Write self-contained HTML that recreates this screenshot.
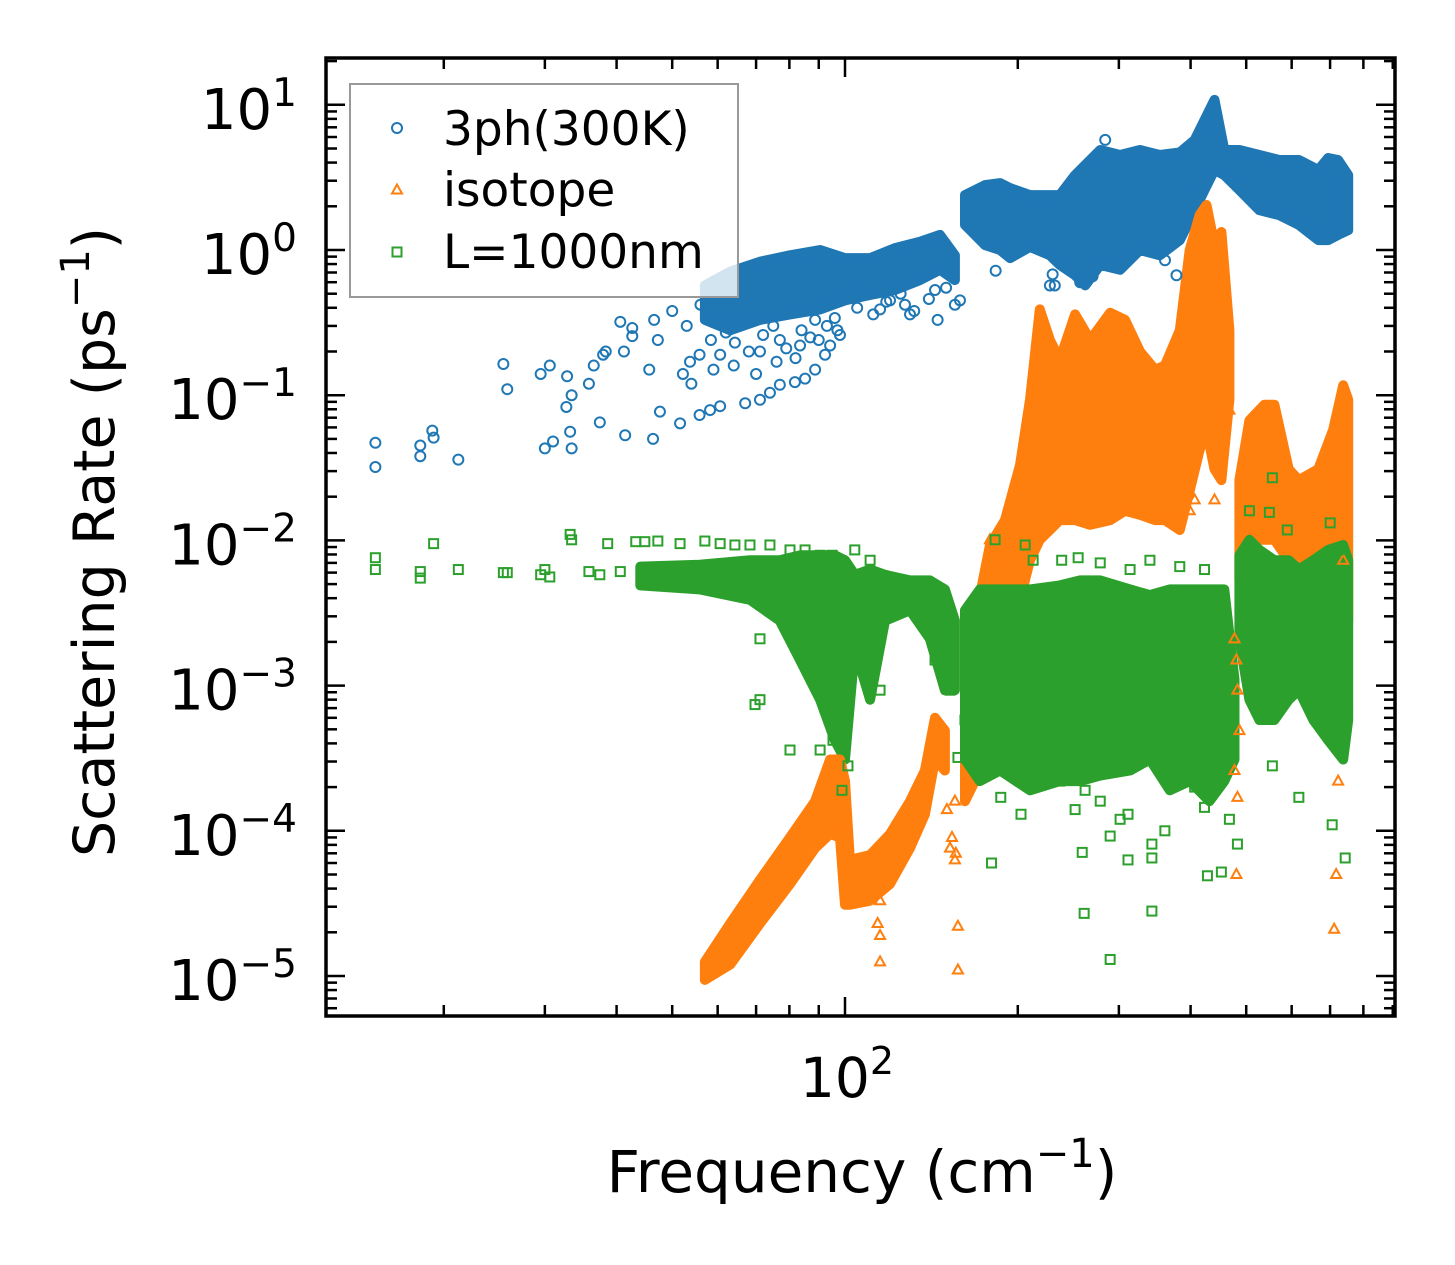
<!DOCTYPE html>
<html><head><meta charset="utf-8">
<style>
html,body{margin:0;padding:0;background:#fff;}
svg{display:block;font-family:"DejaVu Sans","Liberation Sans",sans-serif;}
</style></head>
<body>
<svg id="chart" width="1455" height="1265" viewBox="0 0 1455 1265" xmlns="http://www.w3.org/2000/svg">
<rect x="0" y="0" width="1455" height="1265" fill="#fff"/>
<g id="bands"></g>
<g id="marks"></g>
<g id="axes"></g>
</svg>
<script>
// ---------- data ----------
// 3ph(300K) dense regions: frequency (cm^-1), upper and lower rate (ps^-1)
const ph3BandA_f  = [57,63.1,71.1,80.2,90.5,100,110.6,122.2,135.1,146.4,155.4];
const ph3BandA_hi = [0.57,0.71,0.83,0.92,1.0,0.88,0.88,1.03,1.14,1.27,0.92];
const ph3BandA_lo = [0.33,0.28,0.33,0.36,0.39,0.45,0.49,0.53,0.62,0.73,0.62];
const ph3BandB_f  = [161.8,175.4,186.3,193.9,210,227.5,236.7,251.7,262.1,278.4,301.5,326.5,353.6,383,406.6,423,440.3,458,486.6,527.2,571,617.6,667.8,694.8,723,752.7];
const ph3BandB_hi = [2.39,2.8,2.89,2.67,2.39,2.39,2.39,3.28,3.85,4.88,4.51,4.88,4.51,4.7,5.73,7.85,10.8,4.88,4.88,4.51,4.17,4.17,3.56,4.3,4.17,3.28];
const ph3BandB_lo = [1.49,1.08,1.0,0.88,1.05,0.92,0.79,0.67,0.57,0.79,0.73,1.0,0.92,1.17,1.88,2.59,3.56,3.28,2.59,1.88,1.74,1.49,1.17,1.17,1.27,1.37];
// 3ph individual points
const ph3Pts_f = [15.2,15.2,18.2,18.2,19.1,19.2,21.2,25.4,25.8,29.5,30,30.6,31,32.8,33.4,33.2,32.7,33.4,35.8,36.5,37.4,37.9,38.3,40.6,41.2,41.4,42.6,42.6,45.6,46.3,46.5,47.2,47.6,51.6,55.8,58.2,60.6,67,71.1,74,77,81.8,85.2,88.7,92.3,94.2,98,52.2,53.7,55.8,58.4,60.6,64.3,66.2,71.1,77,83.5,88.7,102,115.1,127.2,145,143.5,155.4,158.6,119.8,129.8,284,378,361,227.5,256.9,650,232,257,270,183,230,
 50,53,56,62,65,68,72,75,79,84,87,93,96,105,112,118,125,132,140,150,54,59,64,70,76,82,90,97];
const ph3Pts_r = [0.032,0.047,0.045,0.038,0.057,0.051,0.036,0.164,0.11,0.14,0.043,0.16,0.048,0.135,0.1,0.056,0.083,0.043,0.12,0.16,0.065,0.19,0.2,0.32,0.2,0.053,0.255,0.29,0.15,0.05,0.33,0.24,0.077,0.064,0.073,0.079,0.084,0.088,0.093,0.104,0.118,0.123,0.13,0.15,0.19,0.22,0.26,0.14,0.17,0.19,0.24,0.19,0.23,0.32,0.2,0.24,0.22,0.33,0.53,0.39,0.42,0.33,0.53,0.42,0.45,0.45,0.36,5.73,0.67,0.85,0.57,0.6,1.37,0.57,0.62,0.66,0.72,0.68,
 0.38,0.3,0.42,0.27,0.35,0.2,0.26,0.3,0.21,0.28,0.25,0.3,0.34,0.4,0.36,0.44,0.5,0.38,0.46,0.55,0.12,0.15,0.16,0.14,0.17,0.18,0.24,0.28];

// isotope dense regions
const isoBandA_f  = [57,63.1,71.1,80.2,88.7,94.2,98,100,102,110.6,119.8,129.8,137.8,143.5,149.3];
const isoBandA_hi = [1.25e-5,2.3e-5,4.6e-5,9e-5,1.6e-4,3.1e-4,3.1e-4,2.2e-4,6.3e-5,6.8e-5,9.5e-5,1.6e-4,2.6e-4,6e-4,4.9e-4];
const isoBandA_lo = [9.4e-6,1.2e-5,2.3e-5,4.3e-5,7.6e-5,9.5e-5,9e-5,3.1e-5,3.1e-5,3.3e-5,4.3e-5,7.6e-5,1.3e-4,3.1e-4,2.6e-4];
const isoBandB_f  = [161.8,168.4,178.9,190,201.8,210,218.5,227.5,236.7,251.7,267.4,289.7,307.5,326.5,346.6,360.8,383,398.6,414.8,426.4,440.3,452.6,467.4];
const isoBandB_hi = [8e-4,2.8e-3,9.3e-3,0.0138,0.033,0.093,0.39,0.24,0.175,0.36,0.24,0.37,0.33,0.2,0.15,0.16,0.28,1.0,1.74,2.04,1.08,1.33,0.28];
const isoBandB_lo = [1.6e-4,2.2e-4,8e-4,2.1e-3,3.9e-3,7.3e-3,0.0101,0.0118,0.0138,0.0138,0.0128,0.0138,0.016,0.015,0.0138,0.0138,0.0118,0.022,0.042,0.058,0.031,0.026,0.093];
const isoBandC_f  = [486.6,506.5,537.8,559.8,593,617.6,667.8,708.7,737.8,752.7];
const isoBandC_hi = [0.026,0.067,0.086,0.086,0.031,0.026,0.031,0.058,0.117,0.093];
const isoBandC_lo = [0.0053,0.0101,0.0101,0.0101,0.0073,0.0073,0.0073,0.0073,0.0039,0.0028];
const isoPts_f = [115.1,114,115.1,115.1,157.3,157.3,152.4,155.4,153.6,150.5,155.4,156,467.4,458,445.4,440.3,477,480.7,482.7,486.6,477,482.7,480.7,723,717.3,711.5,737.8,406.6,398.6,605,278.4,313.8,186.3,178.9];
const isoPts_r = [3.3e-5,2.3e-5,1.9e-5,1.25e-5,2.2e-5,1.1e-5,7.6e-5,6.3e-5,9e-5,1.4e-4,1.6e-4,7e-5,0.079,0.058,0.067,0.019,0.0021,0.0015,9.3e-4,4.9e-4,2.6e-4,1.7e-4,5e-5,2.2e-4,5e-5,2.1e-5,0.0073,0.019,0.016,0.028,0.017,0.019,0.0073,0.0101];

// L=1000nm dense regions
const bdyBandA_f  = [44,55.8,68.3,77,83.5,90.5,96,100,104,110.6,117.4,129.8,140.6,149.3,155.4];
const bdyBandA_hi = [0.0066,0.0068,0.0073,0.0073,0.0079,0.0079,0.0079,0.0073,0.0058,0.0063,0.0058,0.0053,0.0053,0.0046,0.0028];
const bdyBandA_lo = [0.0049,0.0046,0.0039,0.0028,0.0015,8e-4,4.2e-4,3.1e-4,0.0018,8e-4,0.0028,0.0033,0.0021,9.3e-4,9.3e-4];
const bdyBandB_f  = [161.8,171.8,186.3,210,236.7,256.9,278.4,313.8,339.8,368,398.6,431.6,458,477];
const bdyBandB_hi = [0.0033,0.0046,0.0046,0.0046,0.0049,0.0053,0.0053,0.0046,0.0042,0.0046,0.0046,0.0046,0.0046,0.0011];
const bdyBandB_lo = [3.1e-4,2.2e-4,2.6e-4,1.9e-4,2.2e-4,2.2e-4,2.4e-4,2.6e-4,3.1e-4,1.9e-4,2.2e-4,1.6e-4,2.2e-4,3.1e-4];
const bdyBandC_f  = [486.6,506.5,527.2,559.8,593,617.6,654.6,694.8,737.8,752.7];
const bdyBandC_hi = [0.0079,0.0101,0.0086,0.0073,0.0073,0.0063,0.0073,0.0086,0.0093,0.0073];
const bdyBandC_lo = [0.0021,8e-4,5.8e-4,5.8e-4,8e-4,9.3e-4,5.8e-4,4.2e-4,3.1e-4,5.8e-4];
const bdyPts_f = [15.2,15.2,18.2,18.2,19.2,21.2,25.4,25.8,29.5,30,30.6,33.2,33.4,35.8,37.4,38.6,40.6,43.2,44.8,45.8,47.2,51.6,55.8,57,60.6,64.3,68.3,74,80.2,85.2,90.5,95,104,110.6,
 69.7,71.1,80.2,90.5,98.8,101.2,95.3,91.2,71.1,115.1,111.4,137.8,143.5,152.4,146.4,161.8,157.3,
 186.8,202.6,180,259,261,289.7,311.2,342.5,342.5,342.5,428,452.6,482.7,617.6,555.3,705.9,743.8,289.7,406.6,423,467.4,262,278.4,311.2,236.7,218.5,251.7,301.5,360.8,383,
 182.6,206,212.7,238.5,254.8,278.4,313.8,339.8,383,423,506.5,548.7,589.6,700.3,723,555.3];
const bdyPts_r = [0.0076,0.0063,0.0061,0.0055,0.0095,0.0063,0.006,0.006,0.0058,0.0063,0.0056,0.011,0.0101,0.0061,0.0058,0.0095,0.0061,0.0098,0.0098,0.006,0.0099,0.0095,0.0056,0.0099,0.0095,0.0093,0.0093,0.0093,0.0086,0.0086,0.0079,0.0079,0.0086,0.0073,
 7.4e-4,8e-4,3.6e-4,3.6e-4,1.9e-4,2.8e-4,4.2e-4,9.3e-4,0.0021,9.3e-4,0.0013,0.0036,0.0015,9.3e-4,0.0039,5.8e-4,3.2e-4,
 1.7e-4,1.3e-4,6e-5,7.1e-5,2.7e-5,9.2e-5,6.3e-5,2.8e-5,6.5e-5,8.1e-5,4.9e-5,5.2e-5,8.1e-5,1.7e-4,2.8e-4,1.1e-4,6.5e-5,1.3e-5,2e-4,1.45e-4,1.2e-4,1.9e-4,1.6e-4,1.3e-4,2.2e-4,2.6e-4,1.4e-4,1.2e-4,1e-4,2.4e-4,
 0.0101,0.0093,0.0073,0.0073,0.0076,0.007,0.0063,0.0073,0.0066,0.0063,0.016,0.0156,0.0118,0.0132,0.0086,0.027];

const yTickExps = [-5,-4,-3,-2,-1,0,1];
const xTickExps = [2];
const minorMults = [2,3,4,5,6,7,8,9];

// ---------- axes ----------
const L=326, R=1395, T=58, B=1016;
const X0=845, XDEC=574;   // pixel of 10^2, px per decade
const Y0=250, YDEC=145.2; // pixel of 10^0
const xs = f => X0 + (Math.log10(f)-2)*XDEC;
const ys = r => Y0 - Math.log10(r)*YDEC;
const NS="http://www.w3.org/2000/svg";
function mk(tag, attrs, parent){const e=document.createElementNS(NS,tag);for(const k in attrs)e.setAttribute(k,attrs[k]);parent.appendChild(e);return e;}

const C_BLUE="#1f77b4", C_ORANGE="#ff7f0e", C_GREEN="#2ca02c";
const bands=document.getElementById('bands'), marks=document.getElementById('marks'), axes=document.getElementById('axes');

function band(f,hi,lo,color,name){
  let pts=[];
  for(let i=0;i<f.length;i++) pts.push(xs(f[i]).toFixed(1)+','+ys(hi[i]).toFixed(1));
  for(let i=f.length-1;i>=0;i--) pts.push(xs(f[i]).toFixed(1)+','+ys(lo[i]).toFixed(1));
  const p=mk('polygon',{points:pts.join(' '),fill:color,stroke:color,'stroke-width':10,'stroke-linejoin':'round'},bands);
  
  
}
band(bdyBandA_f,bdyBandA_hi,bdyBandA_lo,C_GREEN,'boundary-band-low');
band(isoBandA_f,isoBandA_hi,isoBandA_lo,C_ORANGE,'isotope-band-low');
band(ph3BandA_f,ph3BandA_hi,ph3BandA_lo,C_BLUE,'ph3-band-low');
band(ph3BandB_f,ph3BandB_hi,ph3BandB_lo,C_BLUE,'ph3-band-high');
band(isoBandB_f,isoBandB_hi,isoBandB_lo,C_ORANGE,'isotope-band-mid');
band(isoBandC_f,isoBandC_hi,isoBandC_lo,C_ORANGE,'isotope-band-high');
band(bdyBandB_f,bdyBandB_hi,bdyBandB_lo,C_GREEN,'boundary-band-mid');
band(bdyBandC_f,bdyBandC_hi,bdyBandC_lo,C_GREEN,'boundary-band-high');

function circle(cx,cy,parent){return mk('circle',{cx:cx,cy:cy,r:5,fill:'none',stroke:C_BLUE,'stroke-width':2},parent);}
function tri(cx,cy,parent){return mk('polygon',{points:`${cx},${cy-5.5} ${cx-5},${cy+3.5} ${cx+5},${cy+3.5}`,fill:'none',stroke:C_ORANGE,'stroke-width':2},parent);}
function sq(cx,cy,parent){return mk('rect',{x:cx-4.5,y:cy-4.5,width:9,height:9,fill:'none',stroke:C_GREEN,'stroke-width':2},parent);}

for(let i=0;i<ph3Pts_f.length;i++){
  const e=circle(xs(ph3Pts_f[i]),ys(ph3Pts_r[i]),marks);
  
  
}
for(let i=0;i<isoPts_f.length;i++){
  const e=tri(xs(isoPts_f[i]),ys(isoPts_r[i]),marks);
  
  
}
for(let i=0;i<bdyPts_f.length;i++){
  const e=sq(xs(bdyPts_f[i]),ys(bdyPts_r[i]),marks);
  
  
}

// ticks
function tick(x1,y1,x2,y2,name){
  const e=mk('line',{x1:x1,y1:y1,x2:x2,y2:y2,stroke:'#000','stroke-width':2.5},axes);
  
  
}
for(let d=-6; d<=1; d++){
  for(const m of minorMults){
    const y=ys(m*Math.pow(10,d));
    if(y>T+1 && y<B-1){tick(L,y,L+11,y,'y-minor-tick');tick(R,y,R-11,y,'y-minor-tick');}
  }
}
for(const e of yTickExps){
  const y=ys(Math.pow(10,e));
  tick(L,y,L+19,y,'y-major-tick');tick(R,y,R-19,y,'y-major-tick');
  const t=mk('text',{x:297,y:y+24,'text-anchor':'end','font-size':56,fill:'#000'},axes);
  
  
  const s1=mk('tspan',{},t); s1.textContent='10';
  const s2=mk('tspan',{'font-size':39,dy:-23}, t); s2.textContent=(e<0?'\u2212':'')+Math.abs(e);
}
for(let d=1; d<=2; d++){
  for(const m of minorMults){
    const x=xs(m*Math.pow(10,d));
    if(x>L+1 && x<R-1){tick(x,B,x,B-11,'x-minor-tick');tick(x,T,x,T+11,'x-minor-tick');}
  }
}
for(const e of xTickExps){
  const x=xs(Math.pow(10,e));
  tick(x,B,x,B-19,'x-major-tick');tick(x,T,x,T+19,'x-major-tick');
  const t=mk('text',{x:x+2,y:1097,'text-anchor':'middle','font-size':55,fill:'#000'},axes);
  
  
  const s1=mk('tspan',{},t); s1.textContent='10';
  const s2=mk('tspan',{'font-size':38,dy:-23},t); s2.textContent=String(e);
}
const frame=mk('rect',{x:L,y:T,width:R-L,height:B-T,fill:'none',stroke:'#000','stroke-width':3.5},axes);


</script>
<svg style="position:absolute;left:0;top:0" width="1455" height="1265">
<g font-family="DejaVu Sans, Liberation Sans, sans-serif" fill="#000">
<text x="862" y="1192" text-anchor="middle" font-size="58">Frequency (cm<tspan font-size="40" dy="-25">−1</tspan><tspan dy="25">)</tspan></text>
<text transform="translate(114,542) rotate(-90)" text-anchor="middle" font-size="57">Scattering Rate (ps<tspan font-size="40" dy="-25">−1</tspan><tspan dy="25">)</tspan></text>
</g>
<g>
<rect x="350" y="84" width="388" height="213" fill="#fff" fill-opacity="0.8" stroke="#999" stroke-width="2"/>
<circle cx="397" cy="128" r="5" fill="none" stroke="#1f77b4" stroke-width="2"/>
<text x="443" y="145" font-size="47" font-family="DejaVu Sans, Liberation Sans, sans-serif">3ph(300K)</text>
<polygon points="397,184.5 392,193.5 402,193.5" fill="none" stroke="#ff7f0e" stroke-width="2"/>
<text x="443" y="206" font-size="47" font-family="DejaVu Sans, Liberation Sans, sans-serif">isotope</text>
<rect x="392.5" y="247.5" width="9" height="9" fill="none" stroke="#2ca02c" stroke-width="2"/>
<text x="443" y="268" font-size="47" font-family="DejaVu Sans, Liberation Sans, sans-serif">L=1000nm</text>
</g>
</svg>
</body></html>
